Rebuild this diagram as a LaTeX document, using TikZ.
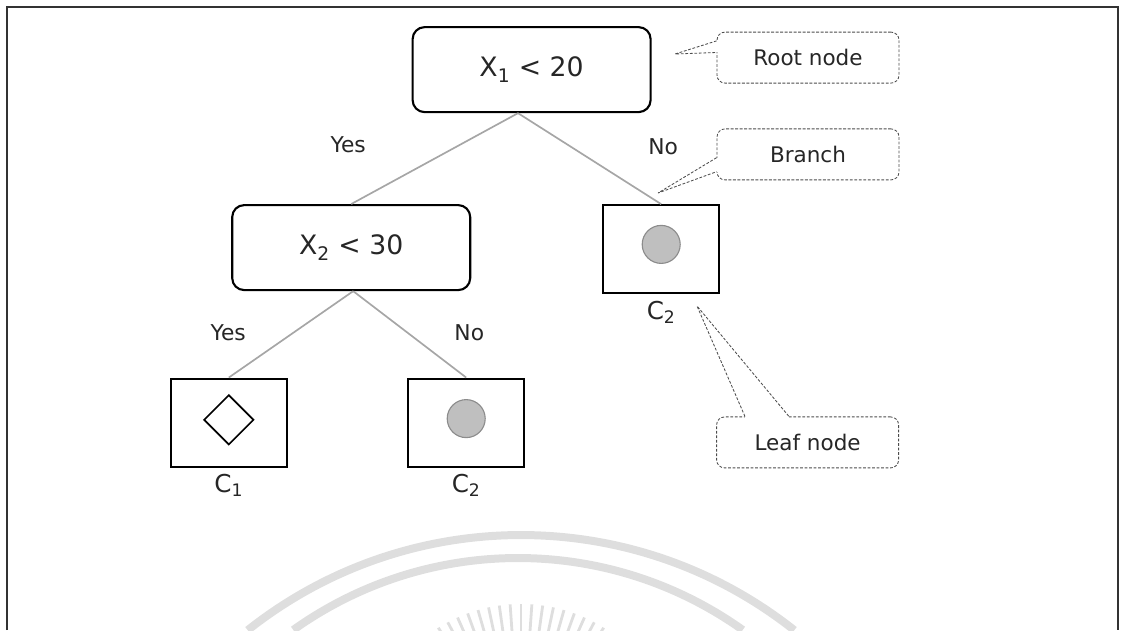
\documentclass[tikz,border=0pt]{standalone}
\usepackage{fontspec}
\setmainfont{DejaVu Sans}
\usetikzlibrary{shapes.geometric}
\tikzstyle{splitbox} = [rectangle, rounded corners=0.3cm, minimum width=5.95cm, minimum height=2.125cm, text centered, draw=black, line width=1.5pt, text=black!85, font=\fontsize{19}{22}\selectfont]
\tikzstyle{leafbox} = [rectangle, minimum width=2.9cm, minimum height=2.2cm, draw=black, line width=1.5pt]
\tikzstyle{notebox} = [rectangle, rounded corners=0.2cm, minimum width=4.55cm, minimum height=1.275cm, draw=black!70, dash pattern=on 2pt off 1.2pt, line width=0.6pt, text=black!85, font=\fontsize{15.3}{18}\selectfont]
\tikzstyle{noteline} = [draw=black!70, dash pattern=on 2pt off 1.2pt, line width=0.6pt]
\tikzstyle{branchline} = [draw=black!35, line width=1.2pt]
\tikzstyle{answer} = [text=black!85, font=\fontsize{15.5}{18}\selectfont]
\tikzstyle{classlabel} = [anchor=north, inner sep=1pt, yshift=-0.12cm, text=black!85, font=\fontsize{17.5}{20}\selectfont]
\tikzstyle{dot} = [circle, fill=black!25, draw=black!45, line width=0.8pt, minimum size=0.95cm, inner sep=0pt]
\tikzstyle{rhomb} = [diamond, draw=black, line width=1.2pt, minimum width=1.25cm, minimum height=1.25cm, inner sep=0pt]

\begin{document}
\begin{tikzpicture}[node distance=4.45cm]
	\clip (0,0) rectangle (28.025,-15.75);
	% seal in the background
	\draw[black!13, line width=0.2cm] (13.025,-24.375) ++(51.6:11) arc[start angle=51.6, end angle=128.4, radius=11];
	\draw[black!13, line width=0.2cm] (12.95,-23.625) ++(54.5:9.675) arc[start angle=54.5, end angle=125.5, radius=9.675];
	\foreach \a in {54,58,...,126} \draw[black!13, line width=2pt] (13.025,-19) ++(\a:3.1) -- ++(\a:0.8);
	% frame
	\draw[black!80, line width=1.2pt] (0.175,-15.75) -- (0.175,-0.175) -- (27.95,-0.175) -- (27.95,-15.75);
	% tree
	\node (root) [splitbox] at (13.29,-1.74) {X\textsubscript{1} < 20};
	\node (x2) [splitbox, below of=root, xshift=-4.51cm] {X\textsubscript{2} < 30};
	\node (leafr) [leafbox, below of=root, xshift=3.24cm, yshift=-0.04cm] {};
	\node (leafa) [leafbox, below of=x2, xshift=-3.06cm, yshift=0.075cm] {};
	\node (leafb) [leafbox, below of=x2, xshift=2.875cm, yshift=0.075cm] {};
	\node (rhomba) [rhomb] at ([yshift=0.07cm]leafa.center) {};
	\node (dotb) [dot] at ([yshift=0.1cm]leafb.center) {};
	\node (dotr) [dot] at ([yshift=0.12cm]leafr.center) {};
	\node (ca) [classlabel] at (leafa.south) {C\textsubscript{1}};
	\node (cb) [classlabel] at (leafb.south) {C\textsubscript{2}};
	\node (cr) [classlabel] at (leafr.south) {C\textsubscript{2}};
	% notes
	\node (rootnote) [notebox] at (20.2,-1.44) {Root node};
	\node (branchnote) [notebox] at (20.2,-3.86) {Branch};
	\node (leafnote) [notebox] at (20.19,-11.06) {Leaf node};
	\coordinate (roottip) at (16.875,-1.35);
	\coordinate (branchtip) at (16.45,-4.825);
	\coordinate (leaftip) at (17.425,-7.65);
	%lines
	\draw [branchline] ([xshift=-0.34cm]root.south) -- node (yes1) [answer, xshift=-2.16cm, yshift=0.34cm] {Yes} (x2.north);
	\draw [branchline] ([xshift=-0.34cm]root.south) -- node (no1) [answer, xshift=1.84cm, yshift=0.29cm] {No} (leafr.north);
	\draw [branchline] ([xshift=0.05cm]x2.south) -- node (yes2) [answer, xshift=-1.57cm, yshift=0.03cm] {Yes} (leafa.north);
	\draw [branchline] ([xshift=0.05cm]x2.south) -- node (no2) [answer, xshift=1.49cm, yshift=0.03cm] {No} (leafb.north);
	%pointers
	\draw [white, line width=1.5pt] ([yshift=-0.23cm]rootnote.north west) -- ([yshift=-0.52cm]rootnote.north west);
	\draw [noteline] ([yshift=-0.23cm]rootnote.north west) -- (roottip) -- ([yshift=-0.52cm]rootnote.north west);
	\draw [white, line width=1.5pt] ([yshift=-0.73cm]branchnote.north west) -- ([yshift=-1.08cm]branchnote.north west);
	\draw [noteline] ([yshift=-0.73cm]branchnote.north west) -- (branchtip) -- ([yshift=-1.08cm]branchnote.north west);
	\draw [white, line width=1.5pt] ([xshift=0.72cm]leafnote.north west) -- ([xshift=1.82cm]leafnote.north west);
	\draw [noteline] ([xshift=0.72cm]leafnote.north west) -- (leaftip) -- ([xshift=1.82cm]leafnote.north west);
\end{tikzpicture}
\end{document}
